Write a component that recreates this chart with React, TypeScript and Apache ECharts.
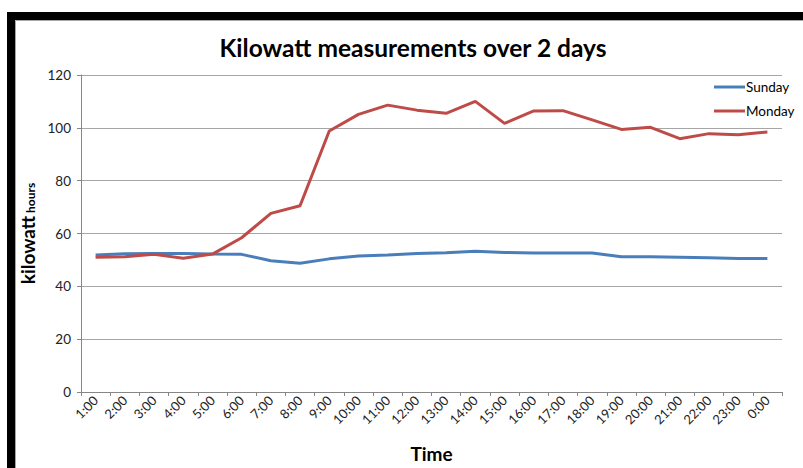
import React, { useEffect, useRef } from "react";
import * as echarts from "echarts";

const categories = ["1:00","2:00","3:00","4:00","5:00","6:00","7:00","8:00","9:00","10:00","11:00","12:00","13:00","14:00","15:00","16:00","17:00","18:00","19:00","20:00","21:00","22:00","23:00","0:00"];
const sunday = [51.9,52.3,52.4,52.4,52.2,52.1,49.7,48.7,50.4,51.5,51.9,52.4,52.7,53.3,52.8,52.6,52.6,52.6,51.2,51.2,51.0,50.8,50.5,50.5];
const monday = [51.0,51.2,52.1,50.6,52.2,58.4,67.6,70.5,98.8,105.1,108.6,106.7,105.5,110.0,101.7,106.4,106.5,103.0,99.4,100.2,95.9,97.8,97.4,98.4];
const yTicks = { min: 0, max: 120, interval: 20 };
const titleText = "Kilowatt measurements over 2 days";
const FONT = "Lato, 'Open Sans', sans-serif";

export default function App() {
  const ref = useRef<HTMLDivElement>(null);
  useEffect(() => {
    document.body.style.margin = "0";
    const chart = echarts.init(ref.current!, undefined, { renderer: "svg" });
    chart.setOption({
      animation: false,
      backgroundColor: "#ffffff",
      textStyle: { fontFamily: FONT },
      graphic: [
        { type: "rect", shape: { x: 7, y: 12, width: 796, height: 8 }, style: { fill: "#000" }, z: 10 },
        { type: "rect", shape: { x: 7, y: 12, width: 8, height: 456 }, style: { fill: "#000" }, z: 10 },
        { type: "line", shape: { x1: 15.5, y1: 20.5, x2: 803, y2: 20.5 }, style: { stroke: "#a6a6a6", lineWidth: 1 }, z: 10 },
        { type: "line", shape: { x1: 15.5, y1: 20.5, x2: 15.5, y2: 468 }, style: { stroke: "#a6a6a6", lineWidth: 1 }, z: 10 },
        {
          type: "text", x: 413, y: 47, z: 10,
          style: { text: titleText, fontFamily: FONT, fontWeight: "bold", fontSize: 24.5, fill: "#000", textAlign: "center", textVerticalAlign: "middle" },
        },
      ],
      legend: {
        orient: "vertical",
        left: 709,
        top: 75,
        icon: "rect",
        itemWidth: 31,
        itemHeight: 3,
        itemGap: 10,
        textStyle: { fontFamily: FONT, fontSize: 13.5, color: "#000", padding: [0, 0, 0, -4] },
        data: ["Sunday", "Monday"],
      },
      grid: { left: 81, top: 75, right: 21, bottom: 76, containLabel: false },
      xAxis: {
        type: "category",
        data: categories,
        boundaryGap: true,
        name: "Time",
        nameLocation: "middle",
        nameGap: 52,
        nameTextStyle: { fontFamily: FONT, fontWeight: "bold", fontSize: 19, color: "#000" },
        axisLine: { lineStyle: { color: "#868686", width: 1 } },
        axisTick: { show: true, alignWithLabel: false, length: 4, lineStyle: { color: "#868686" } },
        axisLabel: { rotate: 45, fontSize: 13, color: "#222", margin: 6, interval: 0, fontFamily: FONT },
        splitLine: { show: false },
      },
      yAxis: {
        type: "value",
        min: yTicks.min,
        max: yTicks.max,
        interval: yTicks.interval,
        name: "{a|kilowatt}{b| hours}",
        nameLocation: "middle",
        nameGap: 36,
        nameRotate: 90,
        nameTextStyle: {
          rich: {
            a: { fontFamily: FONT, fontWeight: "bold", fontSize: 19, color: "#000" },
            b: { fontFamily: FONT, fontWeight: "bold", fontSize: 12, color: "#000", verticalAlign: "bottom", padding: [5, 0, 0, 0] },
          },
        },
        axisLine: { show: true, lineStyle: { color: "#868686", width: 1 } },
        axisTick: { show: true, length: 4, lineStyle: { color: "#868686" } },
        axisLabel: { fontSize: 13.5, color: "#222", margin: 10, fontFamily: FONT },
        splitLine: { show: true, lineStyle: { color: "#a6a6a6", width: 1 } },
      },
      series: [
        {
          name: "Sunday",
          type: "line",
          data: sunday,
          symbol: "none",
          lineStyle: { color: "#4a7ebb", width: 3 },
          itemStyle: { color: "#4a7ebb" },
        },
        {
          name: "Monday",
          type: "line",
          data: monday,
          symbol: "none",
          lineStyle: { color: "#be4b48", width: 3 },
          itemStyle: { color: "#be4b48" },
        },
      ],
    });
    return () => chart.dispose();
  }, []);
  return <div ref={ref} style={{ width: 803, height: 468 }} />;
}
